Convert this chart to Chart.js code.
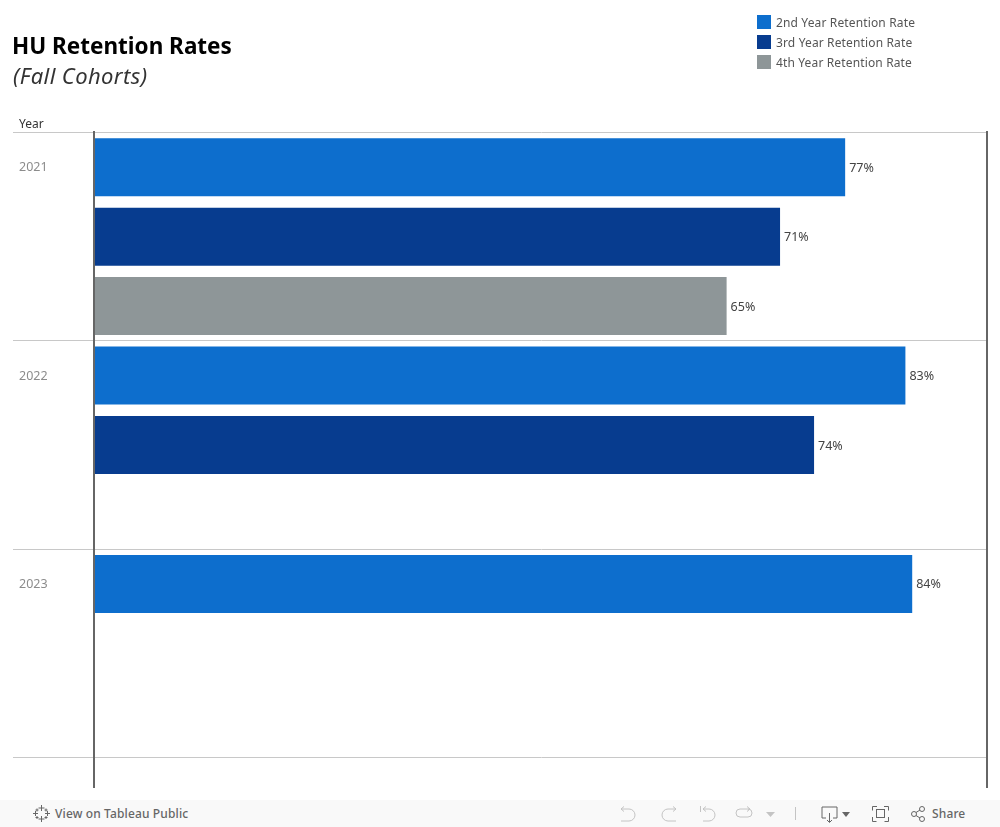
<!DOCTYPE html>
<html>
<head>
<meta charset="utf-8">
<title>HU Retention Rates</title>
<script src="https://cdn.jsdelivr.net/npm/chart.js@4/dist/chart.umd.min.js"></script>
<style>
    html, body { margin: 0; padding: 0; background: #fff; overflow: hidden; }
    body { position: relative; width: 1000px; height: 827px; font-family: "Noto Sans", sans-serif; }
    canvas { position: absolute; left: 0; top: 0; }
    .title { position: absolute; left: 12px; top: 30px; font-size: 22.500px; font-weight: 700; color: #000; line-height: 32px; }
    .subtitle { position: absolute; left: 13px; top: 60px; font-size: 22px; font-style: italic; color: #333; line-height: 30px; letter-spacing: 0.4px; }
    .year-head { position: absolute; left: 19px; top: 116px; font-size: 12px; color: #333; line-height: 16px; }
    .legend { position: absolute; left: 757px; top: 12px; }
    .legend-row { display: flex; align-items: center; height: 20px; font-size: 12px; color: #555; letter-spacing: 0.14px; }
    .legend-row i { display: block; width: 14px; height: 14px; margin-right: 5px; }
    .toolbar { position: absolute; left: 0; top: 800px; width: 1000px; height: 27px; background: #f9f9f9; color: #666; font-size: 12px; font-weight: 500; letter-spacing: 0.13px; }
    .toolbar span { position: absolute; top: 5px; line-height: 17px; }
    .toolbar svg { position: absolute; top: 0; left: 0; }
</style>
</head>
<body>
<canvas id="retentionChart" width="1000" height="800"></canvas>
<div class="title">HU Retention Rates</div>
<div class="subtitle">(Fall Cohorts)</div>
<div class="year-head">Year</div>
<div class="legend" id="legend"></div>
<div class="toolbar">
    <svg width="1000" height="27" fill="none" stroke-width="1">
        <!-- tableau mark -->
        <g stroke="#666">
            <path d="M41.5 5v6M38.5 8h6M41.5 16v6M38.5 19h6M35.5 11v5M33 13.5h5M47.5 11v5M45 13.5h5M37 8.5v3M35.5 10h3M46 8.5v3M44.5 10h3M37 16v3M35.5 17.5h3M46 16v3M44.5 17.5h3"/>
        </g>
        <!-- undo, redo, revert, refresh -->
        <g stroke="#c4c4c4">
            <path d="M621 9h8a6 6 0 0 1 0 12h-8M621 9l3-2.500M621 9l3 2.500"/>
            <path d="M676 9h-8a6 6 0 0 0 0 12h8M676 9l-3-2.500M676 9l-3 2.500"/>
            <path d="M700.500 6v6M703 9h6a6 6 0 0 1 0 12h-6M703 9l3-2.500M703 9l3 2.500"/>
            <path d="M750 9h-10a4 4 0 0 0 0 8h8a4 4 0 0 0 0-8M750 9l-3-2.500M750 9l-3 2.500"/>
            <path d="M795.500 7v13"/>
        </g>
        <path d="M766 12h9l-4.500 5z" fill="#c4c4c4"/>
        <!-- download, fullscreen, share -->
        <g stroke="#666">
            <path d="M826 18h-4v-11h15v11h-4M829.500 13v9M827 20l2.500 2.500 2.500-2.500"/>
            <path d="M877 6.500h-4.500v4M884 6.500h4.500v4M872.500 17v4.500h4M888.500 17v4.500h-4"/>
            <rect x="876.500" y="9.500" width="8" height="8"/>
            <circle cx="914" cy="14" r="2.500"/><circle cx="922" cy="9" r="2.500"/><circle cx="922" cy="19" r="2.500"/>
            <path d="M916 12.500l4-2.500M916 15.500l4 2.500"/>
        </g>
        <path d="M842 12h8l-4 5z" fill="#666"/>
    </svg>
    <span style="left:55px">View on Tableau Public</span>
    <span style="left:932px">Share</span>
</div>
<script>
// Chart data
const years = ['2021', '2022', '2023'];
const secondYear = [77.2, 83.4, 84.1];
const thirdYear = [70.5, 74.0, null];
const fourthYear = [65.0, null, null];
const seriesNames = ['2nd Year Retention Rate', '3rd Year Retention Rate', '4th Year Retention Rate'];
const seriesColors = ['#0d6ecd', '#073c8f', '#8e9698'];
const xMax = 91.9;

// Legend
document.getElementById('legend').innerHTML = seriesNames
    .map((name, i) => `<div class="legend-row"><i style="background:${seriesColors[i]}"></i>${name}</div>`)
    .join('');

// Percent labels at the end of each bar, and the two long vertical axis lines
const barLabels = {
    id: 'barLabels',
    afterDatasetsDraw(chart) {
        const ctx = chart.ctx;
        ctx.save();
        ctx.font = '12.5px "Noto Sans"';
        ctx.fillStyle = '#444';
        ctx.textAlign = 'left';
        ctx.textBaseline = 'middle';
        chart.data.datasets.forEach((ds, i) => {
            chart.getDatasetMeta(i).data.forEach((bar, j) => {
                if (ds.data[j] === null) return;
                ctx.fillText(Math.round(ds.data[j]) + '%', bar.x + 4, bar.y + 1);
            });
        });
        ctx.strokeStyle = '#666';
        ctx.lineWidth = 2;
        [0, xMax].forEach(v => {
            const x = Math.round(chart.scales.x.getPixelForValue(v));
            ctx.beginPath();
            ctx.moveTo(x - 1, 131);
            ctx.lineTo(x - 1, 788);
            ctx.stroke();
        });
        ctx.restore();
    }
};

new Chart(document.getElementById('retentionChart'), {
    type: 'bar',
    data: {
        labels: years,
        datasets: [
            { label: seriesNames[0], data: secondYear, backgroundColor: seriesColors[0] },
            { label: seriesNames[1], data: thirdYear, backgroundColor: seriesColors[1] },
            { label: seriesNames[2], data: fourthYear, backgroundColor: seriesColors[2] }
        ]
    },
    options: {
        indexAxis: 'y',
        responsive: false,
        animation: false,
        categoryPercentage: 1,
        barPercentage: 0.835,
        layout: { padding: { top: 132.5, right: 12, bottom: 42.5, left: 19 } },
        plugins: { legend: { display: false }, tooltip: { enabled: false } },
        scales: {
            x: { display: false, min: 0, max: xMax },
            y: {
                afterFit(scale) { scale.width = 76; },
                border: { display: false },
                grid: { offset: true, color: '#c8c8c8', tickLength: 82, tickColor: '#c8c8c8' },
                ticks: {
                    crossAlign: 'far',
                    labelOffset: -68.9,
                    padding: 0,
                    color: '#8c8c8c',
                    font: { family: '"Noto Sans"', size: 12.5 }
                }
            }
        }
    },
    plugins: [barLabels]
});
</script>
</body>
</html>
